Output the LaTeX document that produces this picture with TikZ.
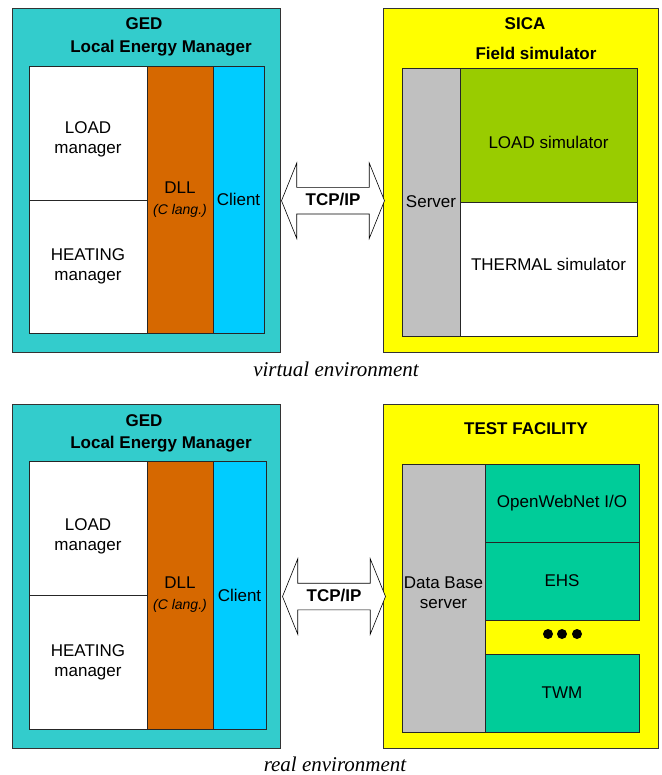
\documentclass[tikz,border=0pt]{standalone}
\usepackage{fontspec}
\setmainfont{Liberation Serif}
\setsansfont{Liberation Sans}
\usepackage{tikz}
\usetikzlibrary{shapes.arrows, positioning, calc}
\definecolor{gedColor}{RGB}{51, 204, 204}
\definecolor{dllColor}{RGB}{214, 104, 0}
\definecolor{clientColor}{RGB}{0, 204, 255}
\definecolor{sicaColor}{RGB}{255, 255, 0}
\definecolor{serverColor}{RGB}{192, 192, 192}
\definecolor{loadColor}{RGB}{153, 204, 0}
\definecolor{deviceColor}{RGB}{0, 204, 153}

\begin{document}
\begin{tikzpicture}[
    x=1pt, y=-1pt,
    frame/.style={rectangle, draw=black!80, line width=0.8pt, anchor=north west, inner sep=0pt, outer sep=0pt},
    cell/.style={rectangle, draw=black!85, line width=0.7pt, anchor=north west, inner sep=0pt, outer sep=0pt, align=center, font=\sffamily\fontsize{17}{20}\selectfont},
    title/.style={font=\sffamily\bfseries\fontsize{17}{20}\selectfont},
    link/.style={double arrow, draw, fill=white, line width=0.6pt, minimum height=103pt, double arrow head extend=24.5pt, double arrow tip angle=136, text height=12pt, text depth=2pt, inner ysep=6pt, inner xsep=0pt, font=\sffamily\bfseries\fontsize{17}{20}\selectfont},
    caption/.style={font=\itshape\fontsize{21}{24}\selectfont}
]
    \useasboundingbox (0,0) rectangle (661,775);

    % Virtual environment: GED
    \node[frame, fill=gedColor, minimum width=268pt, minimum height=344pt] (ged1) at (12,8) {};
    \node[title] (gedname1) at (144,24) {GED};
    \node[title] (lem1) at (161,48) {Local Energy Manager};
    \node[cell, fill=white, minimum width=118pt, minimum height=134pt, text height=46pt, text depth=4pt] (load1) at (29,66) {LOAD\\manager};
    \node[cell, fill=white, minimum width=118pt, minimum height=133pt, below=0pt of load1] (heat1) {HEATING\\manager};
    \node[cell, fill=dllColor, minimum width=66pt, minimum height=267pt] (dll1) at (load1.north east) {DLL\\[1pt]{\itshape\fontsize{14}{17}\selectfont(C lang.)}};
    \node[cell, fill=clientColor, minimum width=51pt, minimum height=267pt] (client1) at (dll1.north east) {Client};

    % Virtual environment: SICA
    \node[frame, fill=sicaColor, minimum width=275pt, minimum height=344pt] (sica) at (383,8) {};
    \node[title] (sicaname) at (525,24) {SICA};
    \node[title] (fieldsim) at (536,53) {Field simulator};
    \node[cell, fill=serverColor, minimum width=58pt, minimum height=268pt] (server1) at (402,68) {Server};
    \node[cell, fill=loadColor, minimum width=177pt, minimum height=134pt, text height=28pt, text depth=0pt] (loadsim) at (server1.north east) {LOAD simulator};
    \node[cell, fill=white, minimum width=177pt, minimum height=134pt, text height=12pt, text depth=10pt, below=0pt of loadsim] (thermsim) {THERMAL simulator};

    % Link
    \node[link] (tcp1) at ($(client1.east)!0.5!(server1.west)$) {TCP/IP};
    \node[caption] (virtual) at (336,369) {virtual environment};

    % Real environment: GED
    \node[frame, fill=gedColor, minimum width=268pt, minimum height=344pt] (ged2) at (12,404) {};
    \node[title] (gedname2) at (144,421) {GED};
    \node[title] (lem2) at (161,444) {Local Energy Manager};
    \node[cell, fill=white, minimum width=118pt, minimum height=134pt, text height=48pt, text depth=4pt] (load2) at (29,461) {LOAD\\manager};
    \node[cell, fill=white, minimum width=118pt, minimum height=134pt, below=0pt of load2] (heat2) {HEATING\\manager};
    \node[cell, fill=dllColor, minimum width=66pt, minimum height=268pt] (dll2) at (load2.north east) {DLL\\[1pt]{\itshape\fontsize{14}{17}\selectfont(C lang.)}};
    \node[cell, fill=clientColor, minimum width=53pt, minimum height=268pt] (client2) at (dll2.north east) {Client};

    % Real environment: test facility
    \node[frame, fill=sicaColor, minimum width=275pt, minimum height=344pt] (test) at (383,404) {};
    \node[title] (testname) at (526,429) {TEST FACILITY};
    \node[cell, fill=serverColor, minimum width=83pt, minimum height=268pt, text height=24pt, text depth=4pt] (db) at (402,464) {Data Base\\server};
    \node[cell, fill=deviceColor, minimum width=154pt, minimum height=78pt] (owio) at (db.north east) {OpenWebNet I/O};
    \node[cell, fill=deviceColor, minimum width=154pt, minimum height=78pt, below=0pt of owio] (ehs) {EHS};
    \node[cell, fill=deviceColor, minimum width=154pt, minimum height=78pt, anchor=south west] (twm) at (db.south east) {TWM};
    \foreach \x in {548,562,577}
        \fill (\x,634) circle (5pt);

    % Link
    \node[link] (tcp2) at ($(client2.east)!0.5!(db.west)$) {TCP/IP};
    \node[caption] (real) at (335,764) {real environment};

\end{tikzpicture}
\end{document}
